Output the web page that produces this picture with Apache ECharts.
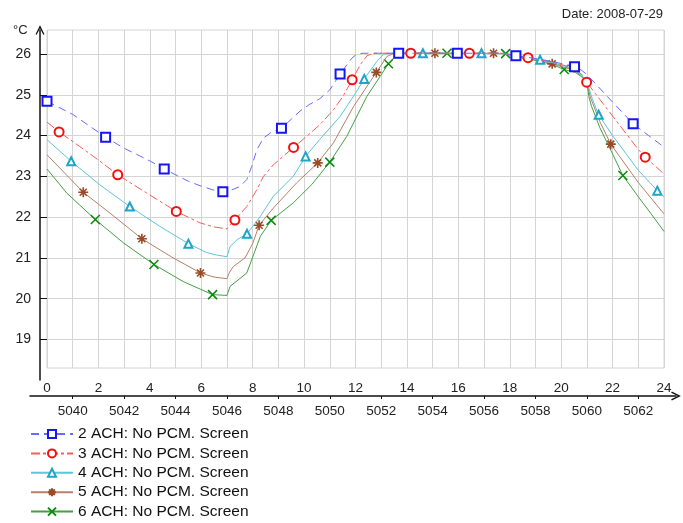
<!DOCTYPE html>
<html>
<head>
<meta charset="utf-8">
<script src="https://cdn.jsdelivr.net/npm/echarts@6/dist/echarts.min.js"></script>
<style>
  html, body { margin: 0; padding: 0; background: #fff; }
  #chart { width: 683px; height: 523px; }
</style>
</head>
<body>
<div id="chart"></div>
<script>
// Hour of day (0-24) and indoor temperature (°C) per ventilation rate
const ach2 = [[0,24.84],[1,24.52],[2.28,23.96],[3,23.69],[4,23.38],[4.56,23.18],[5,23.04],[5.5,22.88],[6,22.76],[6.5,22.66],[6.84,22.62],[7,22.62],[7.5,22.75],[7.77,22.92],[7.96,23.24],[8.16,23.65],[8.42,23.94],[8.7,24.07],[9.12,24.18],[9.5,24.4],[9.84,24.6],[10.2,24.76],[10.6,24.9],[11,25.12],[11.4,25.51],[11.86,25.9],[12.05,26.0],[12.3,26.02],[13.68,26.02],[15.96,26.02],[17.8,26.02],[18.24,25.96],[18.7,25.92],[19.2,25.87],[19.7,25.81],[20.2,25.74],[20.52,25.69],[20.8,25.6],[21,25.5],[22,24.82],[22.8,24.29],[23.4,24.0],[24,23.72]];
const ach3 = [[0,24.33],[0.47,24.09],[1.28,23.73],[2,23.4],[2.75,23.04],[3.88,22.59],[5.03,22.14],[5.95,21.86],[6.5,21.76],[7,21.71],[7.1,21.8],[7.31,21.93],[7.77,22.26],[8.16,22.67],[8.42,23.0],[8.8,23.28],[9.2,23.5],[9.59,23.71],[10.1,23.98],[10.6,24.26],[11.14,24.63],[11.5,24.95],[11.87,25.37],[12.19,25.74],[12.45,25.96],[12.7,26.02],[14.15,26.02],[16.43,26.02],[17.8,26.02],[18.24,25.95],[18.71,25.91],[19.2,25.86],[19.7,25.79],[20.2,25.71],[20.52,25.65],[20.8,25.5],[20.99,25.31],[22,24.48],[23,23.66],[23.27,23.47],[24,23.06]];
const ach4 = [[0,23.9],[0.94,23.37],[2.06,22.79],[3.22,22.26],[4.4,21.77],[5.5,21.35],[6.21,21.13],[6.6,21.07],[7,21.03],[7.12,21.28],[7.4,21.45],[7.78,21.59],[8.3,22.02],[8.8,22.51],[9.58,23.0],[10.06,23.49],[10.6,23.9],[11.4,24.47],[12,25.04],[12.34,25.39],[12.83,25.82],[13.1,26.0],[13.4,26.02],[14.62,26.02],[16.9,26.02],[17.8,26.01],[18.3,25.94],[18.7,25.9],[19.18,25.86],[19.7,25.78],[20.2,25.69],[20.55,25.62],[20.8,25.48],[21,25.33],[21.2,24.92],[21.46,24.51],[22,24.0],[23,23.15],[23.74,22.65],[24,22.5]];
const ach5 = [[0,23.53],[1.41,22.61],[2.45,22.1],[3.69,21.47],[4.91,21.0],[5.97,20.63],[6.5,20.53],[7,20.49],[7.1,20.65],[7.25,20.79],[7.7,21.0],[8.0,21.35],[8.25,21.8],[8.8,22.22],[9.71,22.84],[10.53,23.33],[11.14,23.82],[11.92,24.71],[12.81,25.55],[13.22,25.94],[13.5,26.02],[15.09,26.02],[17.37,26.02],[17.8,26.01],[18.3,25.93],[18.7,25.89],[19.2,25.84],[19.65,25.76],[20.2,25.66],[20.55,25.59],[20.8,25.46],[21,25.33],[21.13,24.95],[21.5,24.35],[21.93,23.79],[23,22.85],[24,22.08]];
const ach6 = [[0,23.18],[0.77,22.59],[1.88,21.94],[2.97,21.37],[4.16,20.84],[5.3,20.42],[6.44,20.1],[7,20.08],[7.12,20.3],[7.77,20.63],[8.3,21.53],[8.72,21.92],[9.58,22.35],[10.3,22.8],[11,23.35],[11.66,23.98],[12.44,24.96],[13.28,25.76],[13.6,25.98],[13.9,26.02],[15.56,26.02],[17.84,26.01],[18.3,25.92],[18.7,25.88],[19.2,25.82],[19.7,25.73],[20.12,25.62],[20.55,25.55],[20.8,25.44],[21,25.33],[21.08,24.95],[21.18,24.72],[21.5,24.2],[22,23.55],[22.4,23.02],[23,22.5],[23.5,22.08],[24,21.65]];

// Hours at which each curve carries a marker
const ach2Marks = [0, 2.28, 4.56, 6.84, 9.12, 11.4, 13.68, 15.96, 18.24, 20.52, 22.8];
const ach3Marks = [0.47, 2.75, 5.03, 7.31, 9.59, 11.87, 14.15, 16.43, 18.71, 20.99, 23.27];
const ach4Marks = [0.94, 3.22, 5.5, 7.78, 10.06, 12.34, 14.62, 16.9, 19.18, 21.46, 23.74];
const ach5Marks = [1.41, 3.69, 5.97, 8.25, 10.53, 12.81, 15.09, 17.37, 19.65, 21.93];
const ach6Marks = [1.88, 4.16, 6.44, 8.72, 11.0, 13.28, 15.56, 17.84, 20.12, 22.4];

const seriesNames = ['2 ACH: No PCM. Screen', '3 ACH: No PCM. Screen', '4 ACH: No PCM. Screen', '5 ACH: No PCM. Screen', '6 ACH: No PCM. Screen'];

// Axis ticks
const hourMin = 0, hourMax = 24;
const hourOfYearMin = 5039, hourOfYearMax = 5063;
const hourOfYearTicks = [5040, 5042, 5044, 5046, 5048, 5050, 5052, 5054, 5056, 5058, 5060, 5062];
const tempTicks = [19, 20, 21, 22, 23, 24, 25, 26];
const tempMin = 18.3, tempMax = 26.59;

const FONT = '"Liberation Sans", Arial, sans-serif';
const ARROW = 'path://M5,0L10,10L8.7,10.8L5,3.4L1.3,10.8L0,10Z';
const ASTERISK = 'path://M5,0L5,10M0,5L10,5M1.5,1.5L8.5,8.5M8.5,1.5L1.5,8.5';
const CROSS = 'path://M0,0L10,10M10,0L0,10';

const styles = [
  { line: '#6a6aff', mark: '#1515f5', symbol: 'emptyRect', size: 9, width: 1.3, dash: [8, 5] },
  { line: '#ff5a5a', mark: '#f51010', symbol: 'emptyCircle', size: 9, width: 1.3, dash: [9, 3, 3, 3] },
  { line: '#5cc6dc', mark: '#1ea6c9', symbol: 'emptyTriangle', size: 8, width: 1.3, dash: 'solid' },
  { line: '#b68068', mark: '#9a4a24', symbol: ASTERISK, size: 10, width: 1.6, dash: 'solid' },
  { line: '#42a142', mark: '#0a8a0a', symbol: CROSS, size: 9, width: 1.5, dash: 'solid' }
];

function withMarks(points, marks) {
  return points.map(p => {
    const isMark = marks.some(m => Math.abs(m - p[0]) < 1e-6);
    return isMark ? { value: p } : { value: p, symbol: 'none' };
  });
}

const allData = [ach2, ach3, ach4, ach5, ach6];
const allMarks = [ach2Marks, ach3Marks, ach4Marks, ach5Marks, ach6Marks];

const series = allData.map((d, i) => {
  const s = styles[i];
  return {
    name: seriesNames[i],
    type: 'line',
    xAxisIndex: 0,
    yAxisIndex: 0,
    data: withMarks(d, allMarks[i]),
    symbol: s.symbol,
    symbolSize: s.size,
    showSymbol: true,
    smooth: false,
    animation: false,
    lineStyle: { color: s.line, width: 1, type: s.dash },
    itemStyle: { color: s.mark, borderColor: s.mark, borderWidth: s.width },
    emphasis: { disabled: true },
    z: 10 - i
  };
});

const chart = echarts.init(document.getElementById('chart'), null, { renderer: 'canvas' });
chart.setOption({
  animation: false,
  backgroundColor: '#ffffff',
  title: [
    { text: 'Date: 2008-07-29', right: 15, top: 3, textStyle: { fontFamily: FONT, fontSize: 13, fontWeight: 'normal', color: '#222' } },
    { text: '°C', left: 8, top: 19, textStyle: { fontFamily: FONT, fontSize: 13, fontWeight: 'normal', color: '#222' } }
  ],
  legend: {
    orient: 'vertical',
    left: 30,
    top: 426,
    height: 120,
    itemWidth: 42,
    itemHeight: 10,
    itemGap: 3.4,
    padding: 0,
    selectedMode: false,
    textStyle: { fontFamily: FONT, fontSize: 15.5, color: '#111' },
    data: seriesNames
  },
  grid: [
    { left: 47, right: 19, top: 30, bottom: 155, show: true, borderColor: '#d4d4d4', borderWidth: 1, backgroundColor: 'transparent' },
    { left: 30, right: 7, top: 30, bottom: 127 },
    { left: 40, right: 7, top: 30, bottom: 143 }
  ],
  xAxis: [
    {
      gridIndex: 0, type: 'value', min: hourMin, max: hourMax, interval: 1, position: 'bottom',
      axisLine: { show: false }, axisTick: { show: false },
      splitLine: { show: true, lineStyle: { color: '#d4d4d4', width: 1 } },
      axisLabel: { margin: 13, fontFamily: FONT, fontSize: 13.5, color: '#222', formatter: v => (v % 2 === 0 ? String(v) : '') }
    },
    {
      gridIndex: 0, type: 'value', min: hourOfYearMin, max: hourOfYearMax, position: 'bottom', offset: 28,
      axisLine: { show: false },
      axisTick: { show: true, length: 3, customValues: hourOfYearTicks, lineStyle: { color: '#111', width: 1 } },
      splitLine: { show: false },
      axisLabel: { margin: 8, fontFamily: FONT, fontSize: 13.5, color: '#222', customValues: hourOfYearTicks, formatter: v => String(v) }
    },
    {
      gridIndex: 1, type: 'value', min: 0, max: 1, position: 'bottom',
      axisLine: { show: true, symbol: ['none', ARROW], symbolSize: [9, 11], lineStyle: { color: '#111', width: 1.5 } },
      axisTick: { show: false }, axisLabel: { show: false }, splitLine: { show: false }
    },
    { gridIndex: 2, type: 'value', min: 0, max: 1, show: false }
  ],
  yAxis: [
    {
      gridIndex: 0, type: 'value', min: tempMin, max: tempMax, position: 'left', offset: 7,
      axisLine: { show: false },
      axisTick: { show: true, length: 7, customValues: tempTicks, lineStyle: { color: '#111', width: 1 } },
      splitLine: { show: true, lineStyle: { color: '#d4d4d4', width: 1 } },
      axisLabel: { margin: 9, fontFamily: FONT, fontSize: 14, color: '#222', customValues: tempTicks }
    },
    { gridIndex: 1, type: 'value', min: 0, max: 1, show: false },
    {
      gridIndex: 2, type: 'value', min: 0, max: 1, position: 'left',
      axisLine: { show: true, symbol: ['none', ARROW], symbolSize: [9, 11], lineStyle: { color: '#111', width: 1.5 } },
      axisTick: { show: false }, axisLabel: { show: false }, splitLine: { show: false }
    }
  ],
  series: series
});
</script>
</body>
</html>
